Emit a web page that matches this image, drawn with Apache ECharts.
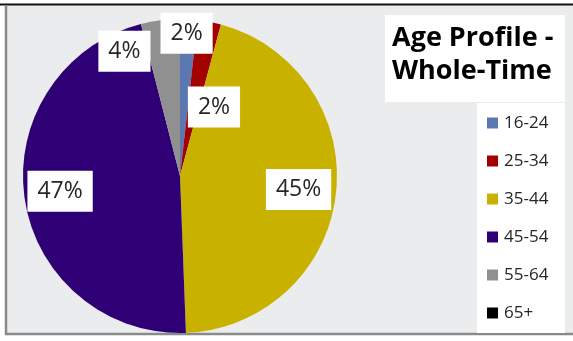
<!DOCTYPE html>
<html>
<head>
<meta charset="utf-8">
<script src="https://cdn.jsdelivr.net/npm/echarts@6/dist/echarts.min.js"></script>
<style>
html,body{margin:0;padding:0;background:#fff;}
#chart{width:573px;height:341px;}
</style>
</head>
<body>
<div id="chart"></div>
<script>
// ---- data ----
var categories = ['16-24', '25-34', '35-44', '45-54', '55-64', '65+'];
var shares = [1.8, 2.4, 45.2, 46.6, 4.0, 0];
var colors = ['#5b78b3', '#a30000', '#c9b100', '#2f0075', '#909090', '#000000'];
var titleText = 'Age Profile -\nWhole-Time';

// ---- label placement style (radial fraction and angular nudge per slice) ----
var labelRadius = [0.91, 0.49, 0.76, 0.77, 0.87, 0.8];
var labelAngleShift = [-0.6, 15.4, 0, 1, -16.8, 0];

var CX = 180, CY = 176, R = 157;

var total = shares.reduce(function (a, b) { return a + b; }, 0);
var midAngles = [];
(function () {
  var acc = 0;
  for (var i = 0; i < shares.length; i++) {
    midAngles.push((acc + shares[i] / 2) / total * 360);
    acc += shares[i];
  }
})();

var chart = echarts.init(document.getElementById('chart'), null, { renderer: 'canvas' });

var option = {
  animation: false,
  backgroundColor: '#ffffff',
  color: colors,
  graphic: [
    { type: 'rect', z: -10, shape: { x: 6, y: 5, width: 567, height: 329 }, style: { fill: '#ebeced' } },
    { type: 'line', z: -5, shape: { x1: 0, y1: 4.5, x2: 573, y2: 4.5 }, style: { stroke: '#111', lineWidth: 2 } },
    { type: 'line', z: -5, shape: { x1: 6, y1: 5, x2: 6, y2: 335 }, style: { stroke: '#8a8a8a', lineWidth: 2.5 } },
    { type: 'line', z: -5, shape: { x1: 5, y1: 334, x2: 573, y2: 334 }, style: { stroke: '#8a8a8a', lineWidth: 2.5 } },
    { type: 'rect', z: -4, shape: { x: 385, y: 15, width: 180, height: 87 }, style: { fill: '#ffffff' } },
    { type: 'rect', z: -4, shape: { x: 477, y: 103, width: 88, height: 230 }, style: { fill: '#ffffff' } }
  ],
  title: {
    text: titleText,
    left: 392,
    top: 22,
    padding: 0,
    textStyle: {
      fontFamily: 'Open Sans',
      fontWeight: 'bold',
      fontSize: 27,
      lineHeight: 33,
      color: '#000'
    }
  },
  legend: {
    orient: 'vertical',
    left: 487,
    top: 113,
    padding: 0,
    itemWidth: 11,
    itemHeight: 11,
    itemGap: 18,
    icon: 'rect',
    selectedMode: false,
    data: categories,
    textStyle: {
      fontFamily: 'Open Sans',
      fontSize: 17,
      lineHeight: 20,
      color: '#262626',
      padding: [0, 0, 0, 1]
    }
  },
  series: [{
    type: 'pie',
    center: [CX, CY],
    radius: R,
    startAngle: 90,
    clockwise: true,
    avoidLabelOverlap: false,
    stillShowZeroSum: true,
    itemStyle: { borderWidth: 0 },
    emphasis: { disabled: true },
    labelLine: { show: false },
    label: {
      show: true,
      position: 'inside',
      formatter: function (p) { return Math.round(p.value / total * 100) + '%'; },
      fontFamily: 'Open Sans',
      fontSize: 23,
      lineHeight: 26,
      color: '#262626',
      backgroundColor: '#ffffff',
      padding: [8, 10, 7, 10]
    },
    labelLayout: function (params) {
      var i = params.dataIndex;
      var th = (midAngles[i] + labelAngleShift[i]) * Math.PI / 180;
      var r = R * labelRadius[i];
      return {
        x: CX + r * Math.sin(th),
        y: CY - r * Math.cos(th),
        align: 'center',
        verticalAlign: 'middle'
      };
    },
    data: categories.map(function (c, i) {
      var d = { name: c, value: shares[i] };
      if (!shares[i]) { d.label = { show: false }; }
      return d;
    })
  }]
};
chart.setOption(option);
</script>
</body>
</html>
